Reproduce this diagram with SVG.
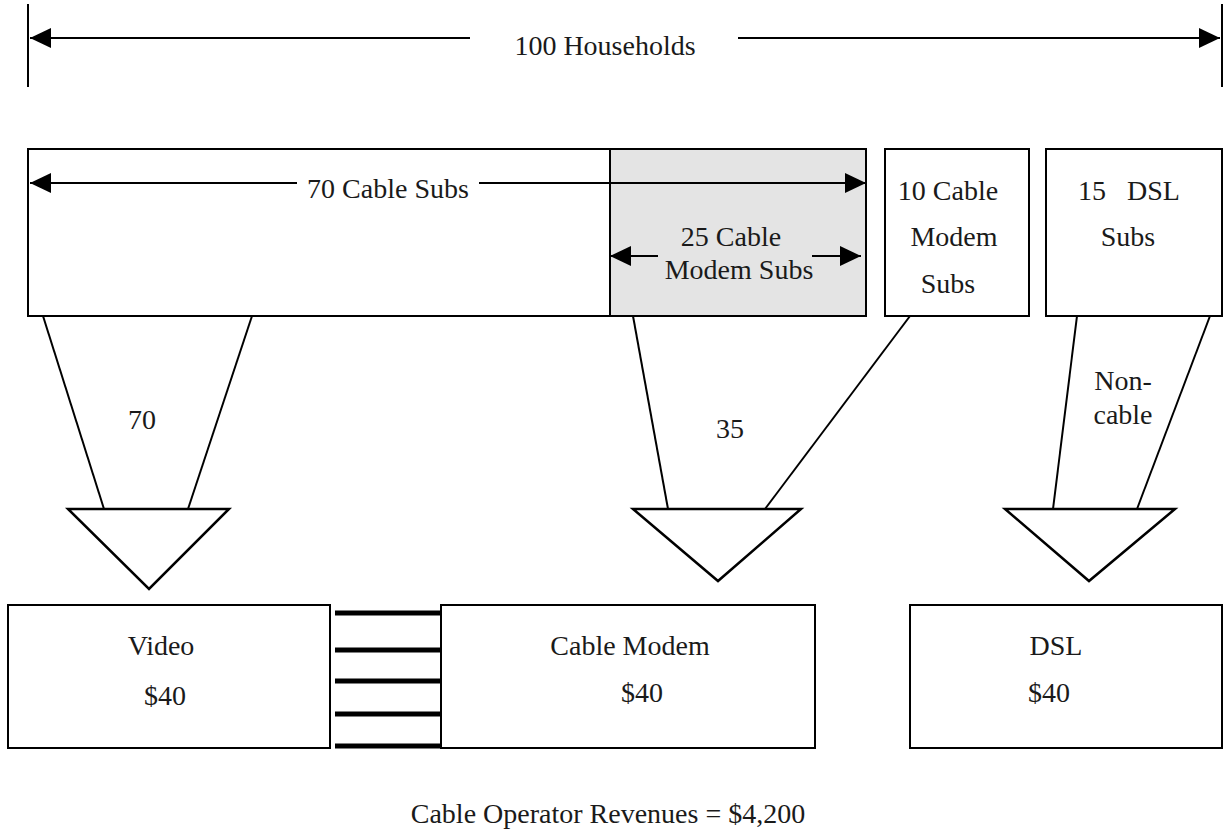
<svg xmlns="http://www.w3.org/2000/svg" width="1225" height="840" viewBox="0 0 1225 840">
<style>
text{font-family:"Liberation Serif","DejaVu Serif",serif;font-size:28px;fill:#1a1a1a;text-anchor:middle}
.ln{stroke:#000;stroke-width:2;fill:none}
.box{stroke:#000;stroke-width:2;fill:#fff}
.gray{fill:#e4e4e4}
.tri{stroke:#000;stroke-width:2.5;fill:#fff;stroke-linejoin:miter}
.bar{stroke:#000;stroke-width:5}
</style>
<defs>
<marker id="ah" markerUnits="userSpaceOnUse" markerWidth="22" markerHeight="22" viewBox="0 0 22 22" refX="21" refY="11" orient="auto">
<path d="M0,1 L21,11 L0,21 Z" fill="#000"/>
</marker>
</defs>
<rect width="1225" height="840" fill="#fff"/>
<g id="households">
<line class="ln" x1="28" y1="4" x2="28" y2="87"/>
<line class="ln" x1="1222" y1="4" x2="1222" y2="87"/>
<line class="ln" x1="470" y1="38" x2="30" y2="38" marker-end="url(#ah)"/>
<line class="ln" x1="738" y1="38" x2="1220" y2="38" marker-end="url(#ah)"/>
<text x="605" y="55">100 Households</text>
</g>
<g id="cable-subs">
<rect class="box" x="28" y="149" width="582" height="167"/>
<rect class="box gray" x="610" y="149" width="256" height="167"/>
<line class="ln" x1="297" y1="183" x2="30" y2="183" marker-end="url(#ah)"/>
<line class="ln" x1="479" y1="183" x2="866" y2="183" marker-end="url(#ah)"/>
<text x="388" y="198">70 Cable Subs</text>
<line class="ln" x1="658" y1="256" x2="610" y2="256" marker-end="url(#ah)"/>
<line class="ln" x1="812" y1="256" x2="861" y2="256" marker-end="url(#ah)"/>
<text x="731" y="246">25 Cable</text>
<text x="739" y="279">Modem Subs</text>
</g>
<g id="cable-modem-subs">
<rect class="box" x="885" y="149" width="144" height="167"/>
<text x="948" y="200">10 Cable</text>
<text x="954" y="246">Modem</text>
<text x="948" y="293">Subs</text>
</g>
<g id="dsl-subs">
<rect class="box" x="1046" y="149" width="176" height="167"/>
<text x="1129" y="200" xml:space="preserve">15   DSL</text>
<text x="1128" y="246">Subs</text>
</g>
<g id="connectors">
<line class="ln" x1="43" y1="316" x2="104" y2="509"/>
<line class="ln" x1="252" y1="316" x2="188" y2="509"/>
<polygon class="tri" points="68,509 229,509 149,589"/>
<text x="142" y="429">70</text>
<line class="ln" x1="633" y1="316" x2="668" y2="509"/>
<line class="ln" x1="910" y1="316" x2="765" y2="509"/>
<polygon class="tri" points="633,509 801,509 718,581"/>
<text x="730" y="438">35</text>
<line class="ln" x1="1077" y1="316" x2="1053" y2="509"/>
<line class="ln" x1="1210" y1="316" x2="1137" y2="509"/>
<polygon class="tri" points="1005,509 1175,509 1089,581"/>
<text x="1123" y="390">Non-</text>
<text x="1123" y="424">cable</text>
<line class="bar" x1="335" y1="613" x2="441" y2="613"/>
<line class="bar" x1="335" y1="650" x2="441" y2="650"/>
<line class="bar" x1="335" y1="681" x2="441" y2="681"/>
<line class="bar" x1="335" y1="714" x2="441" y2="714"/>
<line class="bar" x1="335" y1="746" x2="441" y2="746"/>
</g>
<g id="video">
<rect class="box" x="8" y="605" width="322" height="143"/>
<text x="161" y="655">Video</text>
<text x="165" y="705">$40</text>
</g>
<g id="cable-modem">
<rect class="box" x="441" y="605" width="374" height="143"/>
<text x="630" y="655">Cable Modem</text>
<text x="642" y="702">$40</text>
</g>
<g id="dsl">
<rect class="box" x="910" y="605" width="312" height="143"/>
<text x="1056" y="655">DSL</text>
<text x="1049" y="702">$40</text>
</g>
<g id="revenues">
<text x="608" y="823">Cable Operator Revenues = $4,200</text>
</g>
</svg>
